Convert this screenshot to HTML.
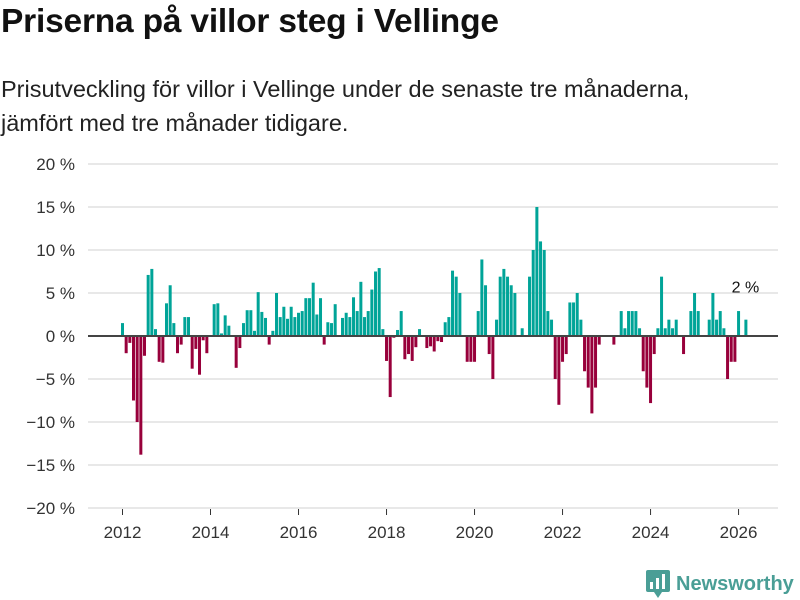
<!DOCTYPE html>
<html><head><meta charset="utf-8"><style>
body{margin:0;width:800px;height:600px;background:#fff;font-family:"Liberation Sans",sans-serif;overflow:hidden;position:relative;color:#111}
#title{position:absolute;left:1px;top:3px;font-size:33.5px;font-weight:bold;margin:0;letter-spacing:-0.2px}
#sub{position:absolute;left:1px;top:72px;font-size:23.5px;line-height:34px;color:#222}
svg{position:absolute;left:0;top:0}
#logo{position:absolute;left:646px;top:570px;font-size:20px;font-weight:bold;color:#4a9e96;display:flex;align-items:center;gap:6px}
</style></head><body>
<h1 id="title">Priserna på villor steg i Vellinge</h1>
<div id="sub">Prisutveckling för villor i Vellinge under de senaste tre månaderna,<br>jämfört med tre månader tidigare.</div>
<svg id="chart" width="800" height="600"></svg>
<div id="logo"><svg width="24" height="28" viewBox="0 0 24 28" style="position:static"><rect x="0" y="0" width="24" height="22" rx="2" fill="#4a9e96"/><polygon points="8,22 16,22 12,28" fill="#4a9e96"/><rect x="4" y="12" width="3" height="7" fill="#fff"/><rect x="10" y="8" width="3" height="11" fill="#fff"/><rect x="16" y="4" width="3" height="15" fill="#fff"/></svg><span>Newsworthy</span></div>
<script>
const yTicks=[20,15,10,5,0,-5,-10,-15,-20];
const xTickYears=[2012,2014,2016,2018,2020,2022,2024,2026];
const startYear=2012;
// monthly change in %, starting Jan 2012
const values=[
1.5,-2,-0.8,-7.5,-10,-13.8,-2.3,7.1,7.8,0.8,-3,-3.1,
3.8,5.9,1.5,-2,-1,2.2,2.2,-3.8,-1.5,-4.5,-0.5,-2,
0,3.7,3.8,0.3,2.4,1.2,0,-3.7,-1.4,1.5,3,3,
0.6,5.1,2.8,2.1,-1,0.6,5,2.2,3.4,2,3.4,2.2,
2.7,2.9,4.4,4.4,6.2,2.5,4.4,-1,1.6,1.5,3.7,0,
2.1,2.7,2.2,4.5,2.9,6.3,2.2,2.9,5.4,7.5,7.9,0.8,
-2.9,-7.1,-0.2,0.7,2.9,-2.7,-2.1,-2.9,-1.3,0.8,0,-1.4,
-1.2,-1.8,-0.6,-0.7,1.6,2.2,7.6,6.9,5,0,-3,-3,
-3,2.9,8.9,5.9,-2.1,-5,1.9,6.9,7.8,6.9,5.9,5,
0,0.9,0,6.9,10,15,11,10,2.9,1.9,-5,-8,
-3,-2.1,3.9,3.9,5,1.9,-4.1,-6,-9,-6,-1,0,
0,0,-1,0,2.9,0.9,2.9,2.9,2.9,0.9,-4.1,-6,
-7.8,-2.1,0.9,6.9,0.9,1.9,0.9,1.9,0,-2.1,0,2.9,
5,2.9,0,0,1.9,5,1.9,2.9,0.9,-5,-3,-3,
2.9,0,1.9];
const lastLabel="2 %";
const svg=document.getElementById('chart');
const NS='http://www.w3.org/2000/svg';
function yS(v){return 336-v*8.6;}
function xS(m){return 121+m*3.667;}
function mk(t,a){const e=document.createElementNS(NS,t);for(const k in a)e.setAttribute(k,a[k]);svg.appendChild(e);return e;}
yTicks.forEach(t=>{
 if(t!==0){const g=mk('line',{x1:88,x2:778,y1:yS(t),y2:yS(t),stroke:'#e0e0e0','stroke-width':1.5});
 
 }
 const l=mk('text',{x:75,y:yS(t)+6,'text-anchor':'end','font-size':17,fill:'#333','font-family':'Liberation Sans, sans-serif'});
 l.textContent=(t<0?'\u2212'+(-t):t)+' %';
 
 
});
xTickYears.forEach(y=>{
 const x=xS((y-startYear)*12)+1.5;
 const tk=mk('line',{x1:x,x2:x,y1:509,y2:515,stroke:'#333','stroke-width':1});
 
 
 const l=mk('text',{x:x,y:538,'text-anchor':'middle','font-size':17,fill:'#333','font-family':'Liberation Sans, sans-serif'});
 l.textContent=y;
 
 
});
values.forEach((v,i)=>{
 if(v===0)return;
 const y0=yS(0),y1=yS(v);
 const r=mk('rect',{x:xS(i),y:Math.min(y0,y1),width:3,height:Math.abs(y1-y0),fill:v>0?'#00a498':'#98003b'});
 
 
});
const z=mk('line',{x1:88,x2:778,y1:yS(0),y2:yS(0),stroke:'#444','stroke-width':2});


const li=values.length-1;
const lb=mk('text',{x:xS(li)+1,y:yS(values[li])-27,'text-anchor':'middle','font-size':16,fill:'#111','font-family':'Liberation Sans, sans-serif'});
lb.textContent=lastLabel;


</script>
</body></html>
